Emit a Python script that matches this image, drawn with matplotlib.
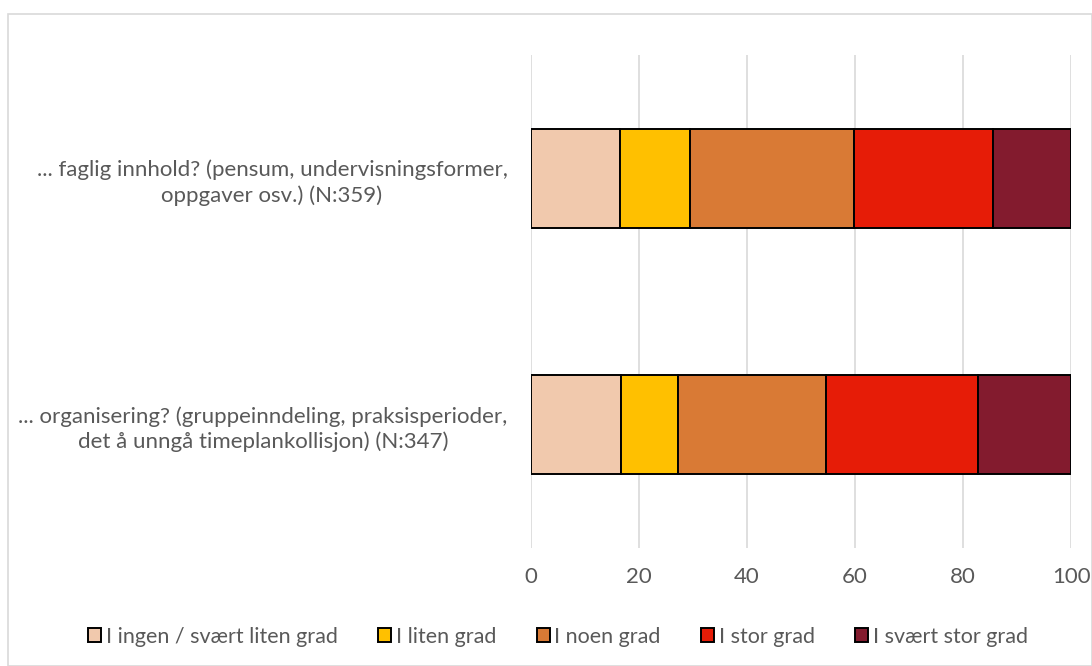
import matplotlib.pyplot as plt
from matplotlib.patches import Rectangle

plt.rcParams['font.family'] = ['Lato', 'DejaVu Sans']

# data (percent)
questions = [
    '... organisering? (gruppeinndeling, praksisperioder,\ndet å unngå timeplankollisjon) (N:347)',
    '... faglig innhold? (pensum, undervisningsformer,\noppgaver osv.) (N:359)',
]
levels = ['I ingen / svært liten grad', 'I liten grad', 'I noen grad',
          'I stor grad', 'I svært stor grad']
ingen = [16.7, 16.4]
liten = [10.6, 13.0]
noen = [27.4, 30.5]
stor = [28.0, 25.7]
svaert_stor = [17.3, 14.4]
colors = ['#F1C9AD', '#FFC000', '#D97A35', '#E61C07', '#831B2E']

series = [ingen, liten, noen, stor, svaert_stor]

fig = plt.figure(figsize=(10.92, 6.66), dpi=100)
ax = fig.add_axes([0.4863, 0.1772, 0.4945, 0.7402])

y = [0.5, 1.5]
left = [0.0, 0.0]
for vals, lab, col in zip(series, levels, colors):
    ax.barh(y, vals, left=left, height=0.4, color=col, edgecolor='black',
            linewidth=1.4, label=lab, zorder=3)
    left = [a + b for a, b in zip(left, vals)]

ax.set_xlim(0, 100)
ax.set_ylim(0, 2)
ax.set_xticks(range(0, 101, 20))
ax.set_yticks(y)
ax.set_yticklabels(questions, multialignment='center', linespacing=1.3)
ax.tick_params(axis='both', length=0, labelsize=16, labelcolor='#595959')
ax.tick_params(axis='y', pad=17)
ax.tick_params(axis='x', pad=14)
ax.grid(True, axis='x', color='#D9D9D9', linewidth=1.2, zorder=0)
for s in ax.spines.values():
    s.set_visible(False)

fig.legend(loc='center', bbox_to_anchor=(0.511, 0.044), ncol=5, frameon=False,
           fontsize=15.5, labelcolor='#595959', handlelength=0.6, handleheight=0.6,
           handletextpad=0.2, columnspacing=1.9)

# chart frame
fig.patches.append(Rectangle((8 / 1092, 0), 1 - 8 / 1092, 1 - 14 / 666,
                             transform=fig.transFigure, fill=False,
                             edgecolor='#D9D9D9', linewidth=1.2))

fig.savefig('out.png', dpi=100)
